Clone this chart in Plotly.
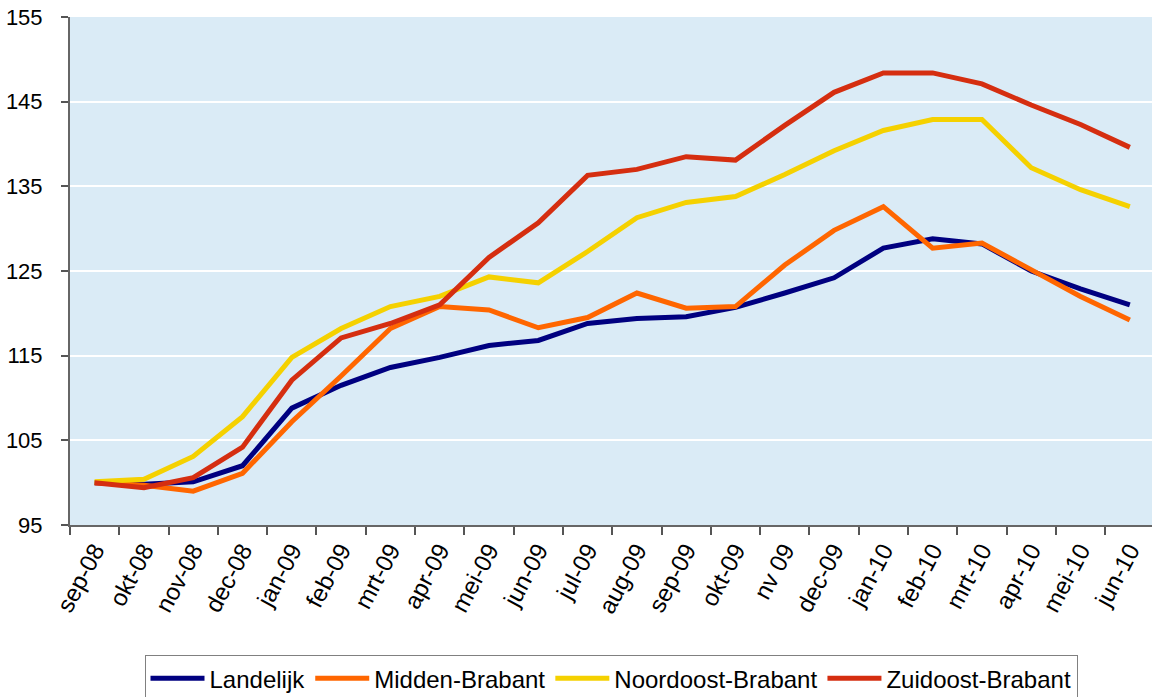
import plotly.graph_objects as go

months = ["sep-08", "okt-08", "nov-08", "dec-08", "jan-09", "feb-09", "mrt-09", "apr-09",
          "mei-09", "jun-09", "jul-09", "aug-09", "sep-09", "okt-09", "nv 09", "dec-09",
          "jan-10", "feb-10", "mrt-10", "apr-10", "mei-10", "jun-10"]

landelijk = [100.0, 99.8, 100.1, 102.0, 108.8, 111.5, 113.6, 114.8, 116.2, 116.8, 118.8,
             119.4, 119.6, 120.7, 122.4, 124.2, 127.7, 128.8, 128.2, 125.0, 122.9, 121.0]
midden = [100.0, 99.7, 99.0, 101.1, 107.2, 112.6, 118.2, 120.8, 120.4, 118.3, 119.5,
          122.4, 120.6, 120.8, 125.7, 129.8, 132.6, 127.7, 128.3, 125.2, 122.0, 119.2]
noordoost = [100.1, 100.4, 103.1, 107.8, 114.8, 118.2, 120.8, 122.0, 124.3, 123.6, 127.3,
             131.3, 133.1, 133.8, 136.4, 139.2, 141.6, 142.9, 142.9, 137.2, 134.6, 132.6]
zuidoost = [100.0, 99.4, 100.6, 104.2, 112.1, 117.1, 118.8, 121.0, 126.6, 130.7, 136.3,
            137.0, 138.5, 138.1, 142.2, 146.1, 148.4, 148.4, 147.1, 144.6, 142.3, 139.6]

series = [
    ("Landelijk", landelijk, "#000080"),
    ("Midden-Brabant", midden, "#FF6600"),
    ("Noordoost-Brabant", noordoost, "#F5D100"),
    ("Zuidoost-Brabant", zuidoost, "#D52E10"),
]

fig = go.Figure()
for name, vals, col in series:
    fig.add_trace(go.Scatter(x=months, y=vals, name=name, mode="lines",
                             line=dict(color=col, width=5)))

font_family = "Liberation Sans, Arial, sans-serif"

fig.update_layout(
    width=1152, height=697,
    margin=dict(l=70, r=0, t=17, b=172, autoexpand=False),
    paper_bgcolor="white",
    plot_bgcolor="#DAEBF6",
    font=dict(family=font_family, size=22, color="black"),
    showlegend=True,
    legend=dict(
        orientation="h",
        x=0.50, xanchor="center",
        y=-0.256, yanchor="top",
        bordercolor="#808080", borderwidth=1,
        bgcolor="white",
        font=dict(family=font_family, size=24, color="black"),
        itemwidth=54,
        tracegroupgap=0,
    ),
)

fig.update_xaxes(
    type="category",
    range=[-0.5, 21.45],
    automargin=False,
    tickson="boundaries",
    ticks="outside", ticklen=8, tickcolor="#555555", tickwidth=1.5,
    showline=True, linecolor="#666666", linewidth=2,
    showgrid=False,
    tickangle=-62,
    tickfont=dict(family=font_family, size=24, color="black"),
)

fig.update_yaxes(
    range=[95, 155],
    automargin=False,
    tickvals=[95, 105, 115, 125, 135, 145, 155],
    ticks="outside", ticklen=7, tickcolor="#555555", tickwidth=1.5,
    showline=True, linecolor="#666666", linewidth=2,
    showgrid=True, gridcolor="white", gridwidth=2,
    zeroline=False,
    ticklabelstandoff=14,
    tickfont=dict(family=font_family, size=22, color="black"),
)

fig.write_html(
    "out.html",
    config={"displayModeBar": False},
    post_script="document.body.style.margin='0';document.body.style.overflow='hidden';",
)
